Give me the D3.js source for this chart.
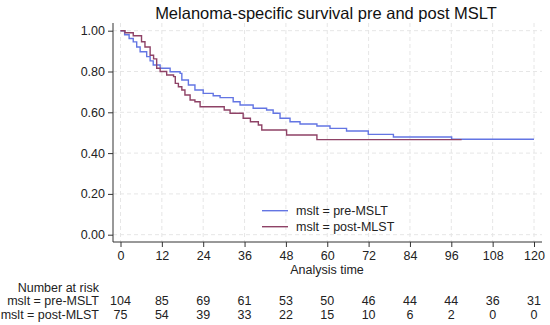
<!DOCTYPE html>
<html>
<head>
<meta charset="utf-8">
<script src="https://cdn.jsdelivr.net/npm/d3@7"></script>
<style>
  body { margin: 0; background: #fff; }
  svg { display: block; font-family: "Liberation Sans", Arial, sans-serif; }
</style>
</head>
<body>
<div id="chart"></div>
<script>
const width = 550;
const height = 325;

const title = 'Melanoma-specific survival pre and post MSLT';
const xTicks = [0, 12, 24, 36, 48, 60, 72, 84, 96, 108, 120];
const yTicks = [0, 0.2, 0.4, 0.6, 0.8, 1.0];

const groups = ['mslt = pre-MSLT', 'mslt = post-MLST'];
const colors = ['#6375e3', '#8e4266'];

// Kaplan-Meier steps: [time, survival after step]
const preSteps = [
  [0, 1], [1.2, 0.98], [2.5, 0.962], [3.7, 0.945], [4.7, 0.92], [5.7, 0.897],
  [7.6, 0.873], [8.6, 0.852], [9.5, 0.832], [11.5, 0.816], [14.4, 0.799],
  [17.3, 0.791], [17.8, 0.758], [19.7, 0.734], [21.6, 0.709], [24, 0.693],
  [26.9, 0.681], [28.9, 0.672], [32.7, 0.652], [34.7, 0.636], [38.5, 0.62],
  [42.4, 0.611], [44.3, 0.595], [46.3, 0.571], [49.2, 0.554], [52.1, 0.543],
  [57, 0.533], [60.8, 0.521], [65.6, 0.508], [71.9, 0.492], [79.2, 0.479],
  [96.1, 0.468], [120, 0.468]
];
const postSteps = [
  [0, 1], [1.3, 0.99], [3.7, 0.975], [6.1, 0.946], [7.1, 0.92], [8.6, 0.88],
  [9.6, 0.862], [10.5, 0.816], [11.5, 0.8], [13.4, 0.783], [15.4, 0.775],
  [15.9, 0.742], [16.8, 0.725], [17.8, 0.709], [18.7, 0.685], [20.2, 0.66],
  [21.6, 0.652], [23.1, 0.627], [30.1, 0.611], [31.8, 0.595], [35.6, 0.571],
  [37.7, 0.554], [40, 0.538], [41, 0.513], [48.2, 0.489], [57, 0.466],
  [99, 0.466]
];

const riskPre = [104, 85, 69, 61, 53, 50, 46, 44, 44, 36, 31];
const riskPost = [75, 54, 39, 33, 22, 15, 10, 6, 2, 0, 0];

const margin = {top: 25, right: 8, bottom: 83, left: 113};

const x = d3.scaleLinear().domain([0, 120]).range([120.5, 534]);
const y = d3.scaleLinear().domain([0, 1]).range([234.7, 30.7]);

const svg = d3.select('#chart')
  .append('svg')
  .attr('width', width)
  .attr('height', height)
  .attr('viewBox', [0, 0, width, height]);

const plotTop = 23;
const plotBottom = 242;
const plotLeft = margin.left;
const plotRight = 542;

// Grid
svg.append('g')
  .attr('stroke', '#e6e6e6')
  .attr('stroke-dasharray', '4,3')
  .call(g => g.selectAll('line.h')
    .data(yTicks)
    .join('line')
      .attr('x1', plotLeft)
      .attr('x2', plotRight)
      .attr('y1', d => y(d))
      .attr('y2', d => y(d)))
  .call(g => g.selectAll('line.v')
    .data(xTicks)
    .join('line')
      .attr('x1', d => x(d))
      .attr('x2', d => x(d))
      .attr('y1', plotTop)
      .attr('y2', plotBottom));

// Axes
svg.append('g')
  .attr('transform', `translate(${plotLeft},0)`)
  .call(d3.axisLeft(y).tickValues(yTicks).tickFormat(d3.format('.2f')).tickSize(5).tickPadding(3))
  .call(g => g.select('.domain').attr('d', `M0,${plotTop}V${plotBottom}`).attr('stroke', '#333'))
  .call(g => g.selectAll('.tick line').attr('stroke', '#333'))
  .call(g => g.selectAll('.tick text').attr('font-size', 12.5).attr('fill', '#222'));

svg.append('g')
  .attr('transform', `translate(0,${plotBottom})`)
  .call(d3.axisBottom(x).tickValues(xTicks).tickSize(5).tickPadding(4))
  .call(g => g.select('.domain').attr('d', `M${plotLeft},0H${plotRight}`).attr('stroke', '#333'))
  .call(g => g.selectAll('.tick line').attr('stroke', '#333'))
  .call(g => g.selectAll('.tick text').attr('font-size', 12.5).attr('fill', '#222'));

// Curves
const line = d3.line()
  .curve(d3.curveStepAfter)
  .x(d => x(d[0]))
  .y(d => y(d[1]));

svg.append('g')
  .attr('fill', 'none')
  .attr('stroke-width', 1.4)
  .selectAll('path')
  .data([preSteps, postSteps])
  .join('path')
    .attr('stroke', (d, i) => colors[i])
    .attr('d', line);

// Title
svg.append('text')
  .attr('x', 326)
  .attr('y', 18.5)
  .attr('text-anchor', 'middle')
  .attr('font-size', 16.5)
  .attr('fill', '#111')
  .text(title);

// Legend
const legend = svg.append('g')
  .selectAll('g')
  .data(groups)
  .join('g')
    .attr('transform', (d, i) => `translate(262,${210.7 + i * 16})`);

legend.append('line')
  .attr('x2', 26)
  .attr('stroke', (d, i) => colors[i])
  .attr('stroke-width', 1.4);

legend.append('text')
  .attr('x', 34)
  .attr('dy', '0.35em')
  .attr('font-size', 12.5)
  .attr('fill', '#222')
  .text(d => d);

// X axis title
svg.append('text')
  .attr('x', 327)
  .attr('y', 274)
  .attr('text-anchor', 'middle')
  .attr('font-size', 12.5)
  .attr('fill', '#222')
  .text('Analysis time');

// Number at risk table
const risk = svg.append('g')
  .attr('font-size', 12.5)
  .attr('fill', '#222');

risk.append('text')
  .attr('x', 99)
  .attr('y', 291.5)
  .attr('text-anchor', 'end')
  .text('Number at risk');

[riskPre, riskPost].forEach((row, i) => {
  const yy = 305 + i * 13.5;
  risk.append('text')
    .attr('x', 99)
    .attr('y', yy)
    .attr('text-anchor', 'end')
    .text(groups[i]);
  risk.append('g')
    .selectAll('text')
    .data(row)
    .join('text')
      .attr('x', (d, j) => x(xTicks[j]))
      .attr('y', yy)
      .attr('text-anchor', 'middle')
      .text(d => d);
});
</script>
</body>
</html>
